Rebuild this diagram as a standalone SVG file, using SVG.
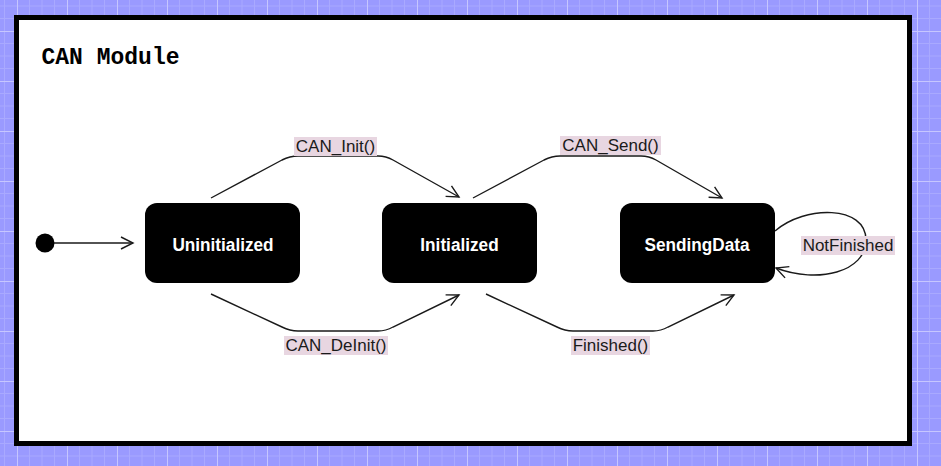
<svg xmlns="http://www.w3.org/2000/svg" width="941" height="466" viewBox="0 0 941 466">
<defs>
<pattern id="grid" patternUnits="userSpaceOnUse" x="17" y="31" width="50" height="50">
<rect width="50" height="50" fill="#9a9aff"/>
<path d="M12.5 0V50M25 0V50M37.5 0V50M0 12.5H50M0 25H50M0 37.5H50" stroke="#a9a9ff" stroke-width="1" fill="none"/>
<path d="M0.5 0V50M0 0.5H50" stroke="#c6c6ff" stroke-width="1" fill="none"/>
</pattern>
<marker id="arr" markerUnits="userSpaceOnUse" markerWidth="16" markerHeight="16" refX="13" refY="7" orient="auto" viewBox="0 0 16 14">
<path d="M1 1L13 7L1 13" fill="none" stroke="#1a1a1a" stroke-width="1.4"/>
</marker>
</defs>
<style>
.node rect{fill:#000;}
.node text{fill:#fff;font-family:"Liberation Sans",Arial,sans-serif;font-weight:bold;font-size:17.2px;text-anchor:middle;}
.edge path{fill:none;stroke:#1a1a1a;stroke-width:1.4;marker-end:url(#arr);}
.lbl rect{fill:#e8d6e1;}
.lbl text{fill:#1a1a1a;font-family:"Liberation Sans",Arial,sans-serif;font-size:17px;text-anchor:middle;}
</style>
<rect width="941" height="466" fill="url(#grid)"/>
<rect x="16.5" y="17.5" width="893" height="426" fill="#fff" stroke="#000" stroke-width="5"/>
<text x="41.5" y="64" font-family="'Liberation Mono','DejaVu Sans Mono',monospace" font-weight="bold" font-size="23" fill="#000">CAN Module</text>

<g id="connectors" class="edge">
<circle cx="45" cy="243" r="9.5" fill="#000"/>
<path d="M54 243H133"/>
<path d="M211 198L282 160Q290 156 298 156L378 156Q386 156 393 160L459 197"/>
<path d="M473 198L544 160Q552 156 560 156L641 156Q649 156 656 160L722 198"/>
<path d="M211 294L282 327Q290 331 298 331L378 331Q386 331 393 327L459 295"/>
<path d="M486 294L557 327Q565 331 573 331L653 331Q661 331 668 327L734 295"/>
<path d="M775 231C805 205 866 205 866 240C866 272 818 284 776 268"/>
</g>

<g id="labels">
<g class="lbl"><rect x="294" y="137" width="83" height="19"/><text x="335.5" y="152">CAN_Init()</text></g>
<g class="lbl"><rect x="560" y="136" width="101" height="19"/><text x="610.5" y="151">CAN_Send()</text></g>
<g class="lbl"><rect x="284" y="336" width="104" height="19"/><text x="336" y="351">CAN_DeInit()</text></g>
<g class="lbl"><rect x="571" y="336" width="79" height="19"/><text x="610.5" y="351">Finished()</text></g>
<g class="lbl"><rect x="801" y="236" width="94" height="19"/><text x="848" y="251">NotFinished</text></g>
</g>

<g id="Uninitialized" class="node"><rect x="145" y="203" width="155" height="80" rx="12"/><text transform="translate(223 250.5) scale(1 1.12)">Uninitialized</text></g>
<g id="Initialized" class="node"><rect x="382" y="203" width="155" height="80" rx="12"/><text transform="translate(459.5 250.5) scale(1 1.12)">Initialized</text></g>
<g id="SendingData" class="node"><rect x="620" y="203" width="155" height="80" rx="12"/><text transform="translate(697 250.5) scale(1 1.12)">SendingData</text></g>
</svg>
